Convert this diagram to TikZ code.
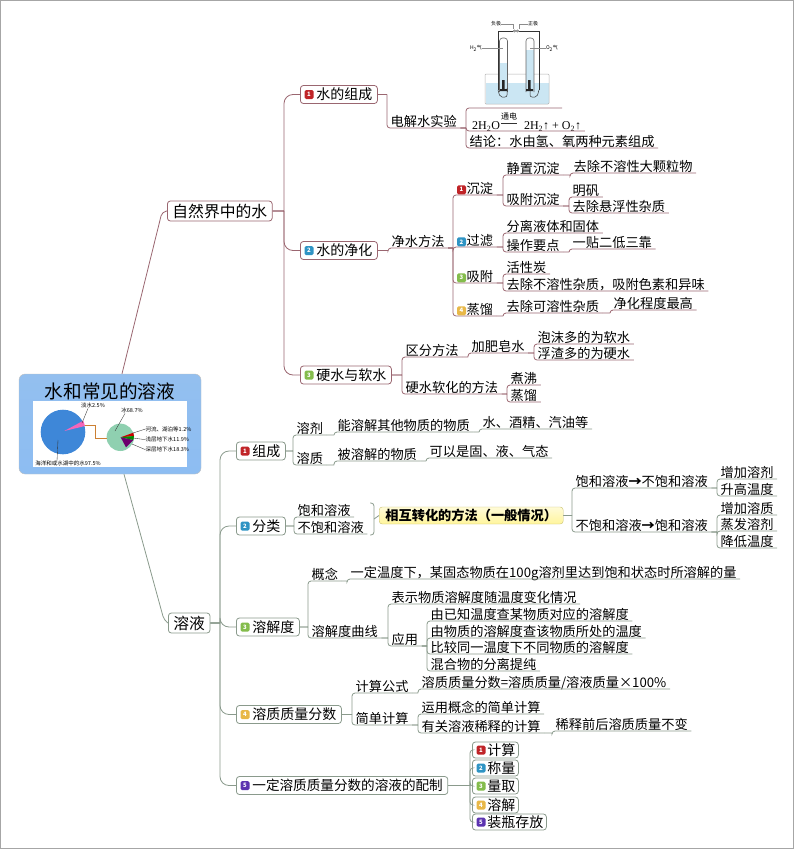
\documentclass[tikz,border=0pt]{standalone}
\usepackage{fontspec}
\setmainfont{Noto Sans CJK SC}
\newfontfamily\formulafont{Liberation Serif}
\definecolor{upperline}{HTML}{9A6670}
\definecolor{lowerline}{HTML}{8A9A8C}
\definecolor{iconred}{HTML}{C02428}
\definecolor{iconblue}{HTML}{2F94C4}
\definecolor{icongreen}{HTML}{84BC4C}
\definecolor{iconyellow}{HTML}{E8B848}
\definecolor{iconpurple}{HTML}{5C34B0}
\definecolor{waterblue}{HTML}{CBE6F3}
\definecolor{roottop}{HTML}{93BFEF}
\definecolor{rootmid}{HTML}{C9DFF9}
\definecolor{rootbottom}{HTML}{8DBDF2}
\definecolor{bigpie}{HTML}{3E87D8}
\definecolor{smallpie}{HTML}{8FD0B0}
\definecolor{yellowtop}{HTML}{FFFBD8}
\definecolor{yellowbottom}{HTML}{FFF59C}
\definecolor{yellowline}{HTML}{C8C070}
\begin{document}
\begin{tikzpicture}[x=1pt,y=-1pt,
	leaf/.style={anchor=south west,inner xsep=3.5pt,inner ysep=0pt,text height=10pt,text depth=1pt,font=\fontsize{13.2}{14}\selectfont},
	topic/.style={anchor=west,draw=#1,fill=white,rounded corners=3pt,line width=.8pt,minimum height=18pt,inner ysep=0pt,inner xsep=5pt,font=\fontsize{14}{15}\selectfont},
	prio/.style={fill=#1,rounded corners=1.5pt,minimum size=9pt,inner sep=0pt,text=white,font=\fontsize{6}{6}\selectfont\bfseries},
	tiny label/.style={inner sep=0pt,font=\fontsize{5.5}{6}\selectfont},
	upper/.style={draw=upperline,line width=.8pt,rounded corners=3pt},
	lower/.style={draw=lowerline,line width=.8pt,rounded corners=3pt}]
\useasboundingbox (0,0) rectangle (794,849);
\draw[black!35,line width=1.5pt] (0.5,0.5) rectangle (793.5,848.5);

% root with the two pies
\node[draw=black!25,rounded corners=6pt,minimum width=182pt,minimum height=100pt,inner sep=0pt,
	top color=roottop,middle color=rootmid,bottom color=rootbottom] (root) at (110,424) {};
\node[inner sep=0pt,font=\fontsize{18.6}{20}\selectfont] (title) at (110,391) {水和常见的溶液};
\node[fill=white,minimum width=154pt,minimum height=66pt,inner sep=0pt] (chart) at (110,434) {};
\fill[bigpie] (63,432) circle (22.3);
\fill[magenta!60!white] (64.3,431) -- (83.3,420.7) -- (85,426) -- cycle;
\fill[smallpie] (120.3,437.3) circle (13.7);
\fill[red!80!black] (120.7,437.3) -- (133.3,432.7) -- (134,436) -- cycle;
\fill[green!55!black] (120.7,437.3) -- (134,436) -- (133.3,440) -- cycle;
\fill[violet!85!black] (120.7,437.3) -- (133.3,440) -- (126,447.3) -- cycle;
\draw[brown!80!orange,line width=.9pt] (85,425) -- (95,425) -- (95,438) -- (107,438);
\node[tiny label] (fresh) at (93,405.7) {淡水2.5\%};
\node[tiny label] (ocean) at (68,463.7) {海洋和或水湖中的水97.5\%};
\node[tiny label] (ice) at (132,410.7) {冰68.7\%};
\node[tiny label,anchor=west] (river) at (145.5,429) {河流、湖泊等1.2\%};
\node[tiny label,anchor=west] (shallow) at (145.5,439.7) {浅层地下水11.9\%};
\node[tiny label,anchor=west] (deep) at (145.5,449.7) {深层地下水18.3\%};
\draw[black!80,line width=.35pt] (fresh.south) ++(-5,0) -- (82,423);
\draw[black!80,line width=.35pt] (ocean.north) ++(-11,0) -- (58,440);
\draw[black!80,line width=.35pt] (ice.south) ++(-7,0) -- (115,431);
\draw[black!80,line width=.35pt] (river.west) -- (133,433);
\draw[black!80,line width=.35pt] (shallow.west) -- (133,438);
\draw[black!80,line width=.35pt] (deep.west) -- (132,444);

% first level
\node[topic=upperline,minimum height=20pt,font=\fontsize{15.8}{16}\selectfont] (ziran) at (167,211) {自然界中的水};
\node[topic=lowerline,minimum height=20pt,font=\fontsize{15.8}{16}\selectfont] (rongye) at (168,623) {溶液};
\draw[upper,rounded corners=4pt] ([xshift=12pt]root.north) -- (162,212) -- (ziran.west);
\draw[lower,rounded corners=4pt] ([xshift=14pt]root.south) -- (164,620) -- (rongye.west);
\coordinate (ziranspine) at (284,211);
\coordinate (rongyespine) at (220,623);

% water, upper half
\node[topic=upperline] (zucheng) at (300,94.5) {\hspace*{11pt}水的组成};
\node[topic=upperline] (jinghua) at (300,250.5) {\hspace*{11pt}水的净化};
\node[topic=upperline] (yingshui) at (300,375) {\hspace*{11pt}硬水与软水};
\foreach \b in {zucheng,jinghua,yingshui}
	\draw[upper,rounded corners=9pt] (ziran.east) -- (ziranspine) (ziranspine) |- (\b.west);

\node[leaf] (dianjie) at (387,128) {电解水实验};
\coordinate (elecleft) at (466,108);
\coordinate (elecright) at (562,108);
\node[leaf,font=\formulafont\fontsize{12}{13}\selectfont] (equation) at (466,131) {\hspace*{2.5pt}2H\textsubscript{2}O\hspace{24pt}2H\textsubscript{2}↑ + O\textsubscript{2}↑};
\node[inner sep=0pt,font=\fontsize{8}{8}\selectfont] (tongdian) at (509,116) {通电};
\draw[double distance=1pt,line width=.5pt,black!80] ([yshift=-3pt]tongdian.south west) -- ([yshift=-3pt]tongdian.south east);
\node[leaf] (jielun) at (466,148) {结论^^^^ff1a水由氢、氧两种元素组成};
\draw[upper] (dianjie.south east) -- (elecleft |- dianjie.south east) (elecleft |- dianjie.south east) -- (elecleft) -- (elecright);

\node[leaf] (jingshui) at (388,248) {净水方法};
\node[leaf] (chendian) at (453,195) {\hspace*{10pt}沉淀};
\node[leaf] (jingzhi) at (503,175) {静置沉淀};
\node[leaf] (qukeli) at (570,173) {去除不溶性大颗粒物};
\node[leaf] (xichen) at (503,206) {吸附沉淀};
\node[leaf] (mingfan) at (569,197) {明矾};
\node[leaf] (xuanfu) at (569,213) {去除悬浮性杂质};
\node[leaf] (guolv) at (453,247) {\hspace*{10pt}过滤};
\node[leaf] (fenli) at (503,233) {分离液体和固体};
\node[leaf] (caozuo) at (503,252) {操作要点};
\node[leaf] (yitie) at (569,249) {一贴二低三靠};
\node[leaf] (xifu) at (453,283) {\hspace*{10pt}吸附};
\node[leaf] (huoxing) at (503,274) {活性炭};
\node[leaf] (quza) at (503,291) {去除不溶性杂质^^^^ff0c吸附色素和异味};
\node[leaf] (zheng) at (453,316) {\hspace*{10pt}蒸馏};
\node[leaf] (kerong) at (503,313) {去除可溶性杂质};
\node[leaf] (zuigao) at (610,310) {净化程度最高};
\node[leaf] (qufen) at (402,357) {区分方法};
\node[leaf] (jiafei) at (468,353) {加肥皂水};
\node[leaf] (paomo) at (534,344) {泡沫多的为软水};
\node[leaf] (fuzha) at (534,360) {浮渣多的为硬水};
\node[leaf] (ruanhua) at (402,394) {硬水软化的方法};
\node[leaf] (zhufei) at (507,385) {煮沸};
\node[leaf] (zhengb) at (507,402) {蒸馏};
\foreach \a/\b in {zucheng.east/dianjie,dianjie.south east/equation,dianjie.south east/jielun,
	jinghua.east/jingshui,jingshui.south east/chendian,jingshui.south east/guolv,jingshui.south east/xifu,jingshui.south east/zheng,
	chendian.south east/jingzhi,chendian.south east/xichen,jingzhi.south east/qukeli,xichen.south east/mingfan,xichen.south east/xuanfu,
	guolv.south east/fenli,guolv.south east/caozuo,caozuo.south east/yitie,
	xifu.south east/huoxing,xifu.south east/quza,zheng.south east/kerong,kerong.south east/zuigao,
	yingshui.east/qufen,yingshui.east/ruanhua,qufen.south east/jiafei,jiafei.south east/paomo,jiafei.south east/fuzha,
	ruanhua.south east/zhufei,ruanhua.south east/zhengb}
	\draw[upper] (\a) -- (\a -| \b.south west) (\a -| \b.south west) -- (\b.south west) -- (\b.south east);

% the cell above the first branch
\fill[waterblue] (486,83) rectangle (549,104);
\draw[black!30,line width=.5pt,rounded corners=1pt] (485,74) rectangle (549,104);
\fill[waterblue] (499.5,63) rectangle (507.5,92);
\fill[waterblue] (526,50) rectangle (534,92);
\draw[black!60,line width=.6pt,rounded corners=3pt] (499.5,92) -- (499.5,38) -- (507.5,38) -- (507.5,92);
\draw[black!60,line width=.6pt,rounded corners=3pt] (526,92) -- (526,38) -- (534,38) -- (534,92);
\draw[black!80,line width=.5pt] (513,31) -- (498,31) -- (498,90);
\draw[black!80,line width=.5pt] (519,31) -- (539,31) -- (539,90);
\draw[black!80,line width=.5pt,rounded corners=2pt] (498,90) -- (500,97) -- (507,97) -- (507,88);
\draw[black!80,line width=.5pt,rounded corners=2pt] (539,90) -- (537,97) -- (530,97) -- (530,88);
\draw[black!80,line width=.4pt] (514.5,31) circle (1.2) (517.5,31) circle (1.2);
\fill[black!85] (502,80) rectangle (504.5,89) (500,89) rectangle (507,91);
\fill[black!85] (528,80) rectangle (530.5,89) (526,89) rectangle (533,91);
\node[tiny label,font=\fontsize{5}{5}\selectfont] (fuji) at (496,24) {负极};
\node[tiny label,font=\fontsize{5}{5}\selectfont] (zhengji) at (533,24) {正极};
\node[tiny label,font=\fontsize{5}{5}\selectfont] (qingqi) at (476,48) {H\textsubscript{2}气};
\node[tiny label,font=\fontsize{5}{5}\selectfont] (yangqi) at (552,48) {O\textsubscript{2}气};
\draw[black!45,line width=.35pt] (fuji.east) -| (513,29);
\draw[black!45,line width=.35pt] (zhengji.west) -| (519,29);
\draw[black!45,line width=.35pt] (qingqi.east) -- (503,48);
\draw[black!45,line width=.35pt] (yangqi.west) -- (530,48);

% solution, lower half
\node[topic=lowerline] (chengfen) at (236,451) {\hspace*{11pt}组成};
\node[topic=lowerline] (fenlei) at (236,526) {\hspace*{11pt}分类};
\node[topic=lowerline] (rongjiedu) at (236,627) {\hspace*{11pt}溶解度};
\node[topic=lowerline] (fenshu) at (236,714.5) {\hspace*{11pt}溶质质量分数};
\node[topic=lowerline,font=\fontsize{13.6}{15}\selectfont] (peizhi) at (236,785.5) {\hspace*{11pt}一定溶质质量分数的溶液的配制};
\foreach \b in {chengfen,fenlei,rongjiedu,fenshu,peizhi}
	\draw[lower,rounded corners=9pt] (rongye.east) -- (rongyespine) (rongyespine) |- (\b.west);

\node[leaf] (rongji) at (293,435) {溶剂};
\node[leaf] (nengrong) at (334,432) {能溶解其他物质的物质};
\node[leaf] (jiujing) at (479,429) {水、酒精、汽油等};
\node[leaf] (rongzhi) at (293,465) {溶质};
\node[leaf] (beirong) at (334,461) {被溶解的物质};
\node[leaf] (keyi) at (426,458) {可以是固、液、气态};
\node[leaf] (baohe) at (294,517) {饱和溶液};
\node[leaf] (bubaohe) at (294,534) {不饱和溶液};
\node[anchor=west,draw=yellowline,rounded corners=3pt,top color=yellowtop,bottom color=yellowbottom,
	minimum height=17pt,minimum width=184pt,inner sep=0pt,font=\fontsize{13.2}{14}\selectfont\bfseries] (zhuanhua) at (379,515.5) {相互转化的方法^^^^ff08一般情况^^^^ff09};
\coordinate (bracetop) at (370,503);
\coordinate (bracebottom) at (370,535);
\coordinate (bracemid) at (374,519);
\draw[lower] (bracetop) -| (bracemid) |- (bracebottom);
\draw[lower] (bracemid) -- (zhuanhua.west);
\node[leaf] (baodao) at (572,488) {饱和溶液{\bfseries →}不饱和溶液};
\node[leaf] (budao) at (572,532) {不饱和溶液{\bfseries →}饱和溶液};
\node[leaf] (zengji) at (717,479) {增加溶剂};
\node[leaf] (shenggao) at (717,496) {升高温度};
\node[leaf] (zengzhi) at (717,515) {增加溶质};
\node[leaf] (zhengfa) at (717,531) {蒸发溶剂};
\node[leaf] (jiangdi) at (717,548) {降低温度};
\node[leaf] (gainian) at (308,581) {概念};
\node[leaf] (dingyi) at (347,579) {一定温度下^^^^ff0c某固态物质在100g溶剂里达到饱和状态时所溶解的量};
\node[leaf] (quxian) at (308,638) {溶解度曲线};
\node[leaf] (biaoshi) at (388,604) {表示物质溶解度随温度变化情况};
\node[leaf] (yingyong) at (388,646) {应用};
\node[leaf] (youyi) at (427,621) {由已知温度查某物质对应的溶解度};
\node[leaf] (youwu) at (427,638) {由物质的溶解度查该物质所处的温度};
\node[leaf] (bijiao) at (427,654) {比较同一温度下不同物质的溶解度};
\node[leaf] (hunhe) at (427,671) {混合物的分离提纯};
\node[leaf] (gongshi) at (352,693) {计算公式};
\node[leaf] (dengshi) at (418,689) {溶质质量分数=溶质质量/溶液质量×100\%};
\node[leaf] (jiandan) at (352,725) {简单计算};
\node[leaf] (yunyong) at (418,714) {运用概念的简单计算};
\node[leaf] (xishi) at (418,733) {有关溶液稀释的计算};
\node[leaf] (qianhou) at (552,731) {稀释前后溶质质量不变};
\foreach \a/\b in {chengfen.east/rongji,chengfen.east/rongzhi,rongji.south east/nengrong,nengrong.south east/jiujing,
	rongzhi.south east/beirong,beirong.south east/keyi,fenlei.east/baohe,fenlei.east/bubaohe,
	zhuanhua.east/baodao,zhuanhua.east/budao,baodao.south east/zengji,baodao.south east/shenggao,
	budao.south east/zengzhi,budao.south east/zhengfa,budao.south east/jiangdi,
	rongjiedu.east/gainian,rongjiedu.east/quxian,gainian.south east/dingyi,quxian.south east/biaoshi,quxian.south east/yingyong,
	yingyong.south east/youyi,yingyong.south east/youwu,yingyong.south east/bijiao,yingyong.south east/hunhe,
	fenshu.east/gongshi,fenshu.east/jiandan,gongshi.south east/dengshi,jiandan.south east/yunyong,jiandan.south east/xishi,xishi.south east/qianhou}
	\draw[lower] (\a) -- (\a -| \b.south west) (\a -| \b.south west) -- (\b.south west) -- (\b.south east);

% steps of the last branch
\coordinate (peizhispine) at (470,785.5);
\node[topic=lowerline,minimum height=16pt,inner xsep=3pt] (jisuan) at (472,750) {\hspace*{12pt}计算};
\node[topic=lowerline,minimum height=16pt,inner xsep=3pt] (chengliang) at (472,768) {\hspace*{12pt}称量};
\node[topic=lowerline,minimum height=16pt,inner xsep=3pt] (liangqu) at (472,786) {\hspace*{12pt}量取};
\node[topic=lowerline,minimum height=16pt,inner xsep=3pt] (rongjie) at (472,805) {\hspace*{12pt}溶解};
\node[topic=lowerline,minimum height=16pt,inner xsep=3pt] (zhuangping) at (472,822) {\hspace*{12pt}装瓶存放};
\foreach \b in {jisuan,chengliang,liangqu,rongjie,zhuangping}
	\draw[lower] (peizhi.east) -- (peizhispine) (peizhispine) |- (\b.west);

% the little numbered squares
\foreach \n/\c/\k in {zucheng/iconred/1,jinghua/iconblue/2,yingshui/icongreen/3,
	chengfen/iconred/1,fenlei/iconblue/2,rongjiedu/icongreen/3,fenshu/iconyellow/4,peizhi/iconpurple/5,
	jisuan/iconred/1,chengliang/iconblue/2,liangqu/icongreen/3,rongjie/iconyellow/4,zhuangping/iconpurple/5}
	\node[prio=\c] (icon\n) at ([xshift=9pt]\n.west) {\k};
\foreach \n/\c/\k in {chendian/iconred/1,guolv/iconblue/2,xifu/icongreen/3,zheng/iconyellow/4}
	\node[prio=\c] (icon\n) at ([xshift=8.5pt,yshift=-0.5pt]\n.west) {\k};
\end{tikzpicture}
\end{document}
